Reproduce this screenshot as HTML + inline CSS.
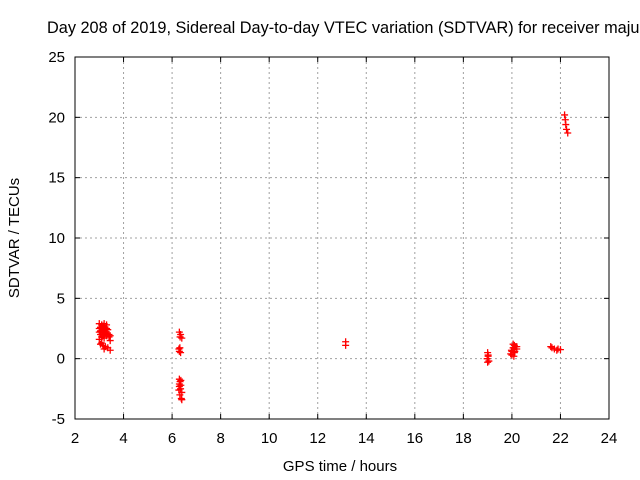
<!DOCTYPE html>
<html><head><meta charset="utf-8"><style>
html,body{margin:0;padding:0;background:#fff;overflow:hidden;}
svg{display:block;font-family:"Liberation Sans",sans-serif;}
</style></head><body>
<svg id="chart" width="640" height="480" viewBox="0 0 640 480" xmlns="http://www.w3.org/2000/svg">
<rect width="640" height="480" fill="#fff"/>
<text x="47" y="33" font-size="16.3" text-anchor="start">Day 208 of 2019, Sidereal Day-to-day VTEC variation (SDTVAR) for receiver maju</text>
<g id="grid"></g>
<g id="ticks"></g>
<g id="pts"></g>
<rect x="75" y="57" width="534" height="362" fill="none" stroke="#000" stroke-width="1"/>
<text x="340" y="471" font-size="15" text-anchor="middle">GPS time / hours</text>
<text x="0" y="0" font-size="15" text-anchor="middle" transform="translate(19,238) rotate(-90)">SDTVAR / TECUs</text>
</svg>
<script>
const xTicks=[2,4,6,8,10,12,14,16,18,20,22,24];
const yTicks=[-5,0,5,10,15,20,25];
const ptX=[3.0,3.05,3.1,3.15,3.2,3.25,3.3,3.35,3.0,3.05,3.1,3.15,3.2,3.25,3.3,3.4,3.45,3.0,3.1,3.2,3.3,3.05,3.15,3.25,3.35,3.45,3.1,3.2,3.0,3.05,3.15,3.2,3.3,3.4,3.45,
6.3,6.35,6.33,6.4,6.28,6.3,6.35,6.32,6.3,6.33,6.36,6.3,6.28,6.35,6.4,6.32,6.38,6.3,6.36,6.4,
13.15,13.15,
19.0,19.02,18.98,19.05,19.0,19.02,
19.95,20.0,20.05,20.1,20.15,20.2,20.0,20.1,20.05,19.98,20.12,20.2,20.08,
21.6,21.65,21.75,21.85,21.9,22.0,
22.17,22.2,22.22,22.25,22.3];
const ptY=[2.9,2.6,2.8,2.7,2.9,2.5,2.8,2.4,2.2,2.0,2.3,1.9,2.4,2.1,2.0,1.8,1.5,1.6,1.8,1.7,1.9,1.2,1.1,1.0,0.9,0.7,1.3,0.8,2.5,2.3,2.6,2.2,2.5,2.0,1.9,
2.2,2.0,1.8,1.7,0.8,0.6,0.5,0.9,-1.7,-1.9,-1.8,-2.3,-2.6,-2.5,-2.8,-3.0,-3.3,-2.1,-2.2,-3.4,
1.4,1.1,
0.5,0.2,0.0,-0.2,-0.3,0.3,
0.4,0.6,0.9,1.1,1.0,0.8,0.3,0.5,1.2,0.7,0.6,1.0,0.2,
1.0,0.9,0.8,0.7,0.8,0.75,
20.2,19.8,19.4,19.0,18.7];
const X=v=>75+(v-2)*(534/22);
const Y=v=>419-(v+5)*(362/30);
const NS="http://www.w3.org/2000/svg";
function mk(tag,attrs,parent){const e=document.createElementNS(NS,tag);for(const k in attrs)e.setAttribute(k,attrs[k]);parent.appendChild(e);return e;}
const grid=document.getElementById('grid'),ticks=document.getElementById('ticks'),pts=document.getElementById('pts');
xTicks.forEach(t=>{const x=X(t);
 if(t>2&&t<24){const g=mk('line',{x1:x,x2:x,y1:57,y2:419,stroke:'#a0a0a0','stroke-dasharray':'2,3'},grid);
 
 }
 mk('line',{x1:x,x2:x,y1:419,y2:414,stroke:'#000'},ticks);
 mk('line',{x1:x,x2:x,y1:57,y2:62,stroke:'#000'},ticks);
 const l=mk('text',{x:x,y:443,'font-size':15,'text-anchor':'middle'},ticks);l.textContent=t;
 
 
});
yTicks.forEach(t=>{const y=Y(t);
 if(t>-5&&t<25){const g=mk('line',{x1:75,x2:609,y1:y,y2:y,stroke:'#a0a0a0','stroke-dasharray':'2,3'},grid);
 
 }
 mk('line',{x1:75,x2:80,y1:y,y2:y,stroke:'#000'},ticks);
 mk('line',{x1:609,x2:604,y1:y,y2:y,stroke:'#000'},ticks);
 const l=mk('text',{x:65,y:y+5,'font-size':15,'text-anchor':'end'},ticks);l.textContent=t;
 
 
});
ptX.forEach((v,i)=>{const x=X(v),y=Y(ptY[i]);
 const p=mk('path',{d:`M${x-3.5},${y}H${x+3.5}M${x},${y-3.5}V${y+3.5}`,stroke:'#f00','stroke-width':1.3,fill:'none'},pts);
 
 
});
</script>
</body></html>
